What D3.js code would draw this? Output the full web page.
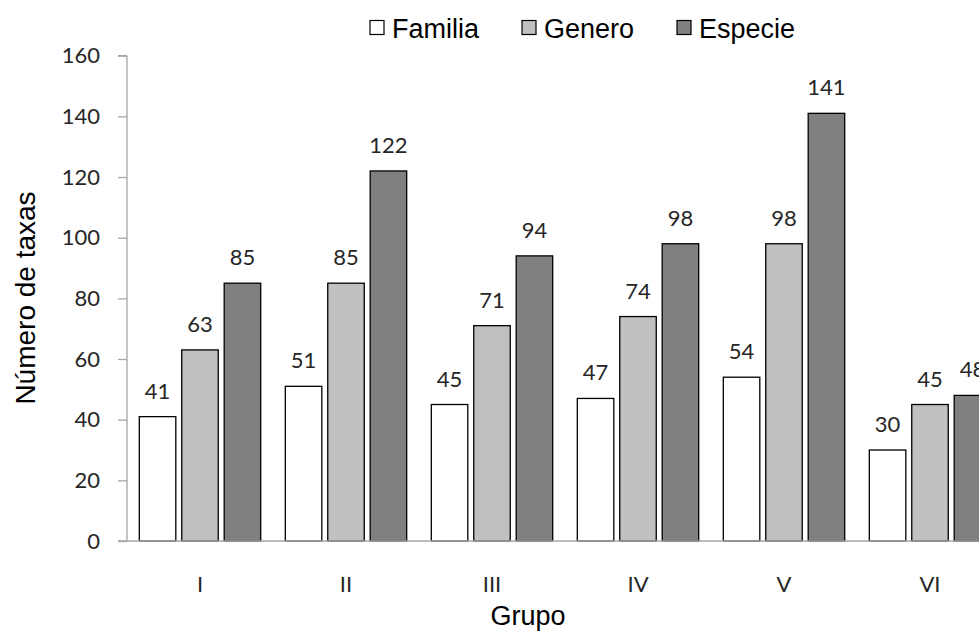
<!DOCTYPE html>
<html>
<head>
<meta charset="utf-8">
<script src="https://cdn.jsdelivr.net/npm/d3@7"></script>
<style>
  html, body { margin: 0; padding: 0; background: #fff; overflow: hidden; }
  svg { display: block; }
</style>
</head>
<body>
<svg id="chart" width="979" height="632"></svg>
<script>
const groups = ["I", "II", "III", "IV", "V", "VI"];
const seriesNames = ["Familia", "Genero", "Especie"];
const familia = [41, 51, 45, 47, 54, 30];
const genero = [63, 85, 71, 74, 98, 45];
const especie = [85, 122, 94, 98, 141, 48];
const yTicks = [0, 20, 40, 60, 80, 100, 120, 140, 160];
const colors = ["#ffffff", "#c0c0c0", "#808080"];

const seriesValues = [familia, genero, especie];
const svg = d3.select("#chart");

const x0 = d3.scaleBand().domain(groups).range([127, 127 + 6 * 146]).paddingInner(0).paddingOuter(0);
const x1 = d3.scaleBand().domain(seriesNames).range([0, x0.bandwidth()]).paddingInner(0.14).paddingOuter(0.29);
const y = d3.scaleLinear().domain([0, 160]).range([541, 55.7]);

const numFont = "Lato, 'Open Sans', sans-serif";
const txtFont = "'Liberation Sans', Arial, sans-serif";
const axisColor = "#a6a6a6";

// Y axis
const yAxis = svg.append("g").attr("transform", "translate(127,0)")
  .call(d3.axisLeft(y).tickValues(yTicks).tickSize(9).tickPadding(18).tickFormat(d3.format("d")));
yAxis.select(".domain").attr("stroke", axisColor).attr("stroke-width", 1.3).attr("d", `M0,${y(160)}H-9M0,${y(160)}V${y(0)}`);
yAxis.selectAll(".tick line").attr("stroke", axisColor).attr("stroke-width", 1.3);
yAxis.selectAll(".tick text").attr("font-family", numFont).attr("font-size", 22).attr("fill", "#262626");

// Bars
const g = svg.append("g");
groups.forEach((grp, i) => {
  seriesNames.forEach((s, j) => {
    const v = seriesValues[j][i];
    const bx = x0(grp) + x1(s);
    g.append("rect")
      .attr("x", bx).attr("y", y(v))
      .attr("width", x1.bandwidth()).attr("height", y(0) - y(v))
      .attr("fill", colors[j]).attr("stroke", "#000").attr("stroke-width", 1.3);
    g.append("text")
      .attr("x", bx + x1.bandwidth() / 2).attr("y", y(v) - 18)
      .attr("text-anchor", "middle")
      .attr("font-family", numFont).attr("font-size", 22).attr("fill", "#262626")
      .text(v);
  });
});

// X axis
const xAxis = svg.append("g").attr("transform", "translate(0,541)")
  .call(d3.axisBottom(x0).tickSize(0).tickPadding(0));
xAxis.select(".domain").attr("stroke", axisColor).attr("stroke-width", 1.3).attr("d", `M118,0H1003`);
xAxis.selectAll(".tick text").attr("font-family", numFont).attr("font-size", 22).attr("fill", "#262626")
  .attr("dy", null).attr("y", 51);

// Axis titles
svg.append("text").attr("x", 528).attr("y", 625).attr("text-anchor", "middle")
  .attr("font-family", txtFont).attr("font-size", 27).attr("fill", "#000").text("Grupo");
svg.append("text").attr("transform", "translate(35,298) rotate(-90)").attr("text-anchor", "middle")
  .attr("font-family", txtFont).attr("font-size", 28).attr("fill", "#000").text("Número de taxas");

// Legend
const legendX = [370, 522, 677];
seriesNames.forEach((s, j) => {
  svg.append("rect").attr("x", legendX[j]).attr("y", 20.5).attr("width", 14).attr("height", 14)
    .attr("fill", colors[j]).attr("stroke", "#000").attr("stroke-width", 1.2);
  svg.append("text").attr("x", legendX[j] + 22).attr("y", 38)
    .attr("font-family", txtFont).attr("font-size", 27).attr("fill", "#000").text(s);
});
</script>
</body>
</html>
